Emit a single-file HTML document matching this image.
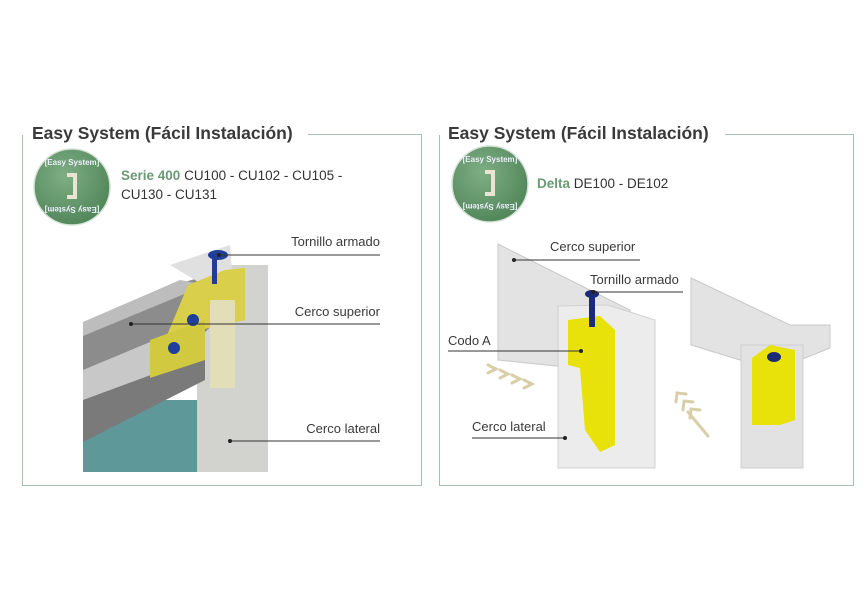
<!DOCTYPE html>
<html><head><meta charset="utf-8"><style>
html,body{margin:0;padding:0;background:#fff;}
svg{display:block;font-family:"Liberation Sans",sans-serif;}
</style></head><body>
<svg width="865" height="600" viewBox="0 0 865 600" xmlns="http://www.w3.org/2000/svg">
<g stroke="#a9bfb0" stroke-width="1" fill="none">
<path d="M22.5 135 V485.5 H421.5 V134.5 H308"/>
<path d="M439.5 135 V485.5 H853.5 V134.5 H725"/>
</g>
<text x="32" y="139" font-size="17.5" font-weight="bold" fill="#3a3a3a">Easy System (Fácil Instalación)</text>
<text x="448" y="139" font-size="17.5" font-weight="bold" fill="#3a3a3a">Easy System (Fácil Instalación)</text>

<g>
<defs><radialGradient id="bg" cx="40%" cy="35%" r="70%"><stop offset="0" stop-color="#7fae84"/><stop offset="1" stop-color="#4f8558"/></radialGradient></defs>
<circle cx="72" cy="187" r="38" fill="url(#bg)"/>
<circle cx="72" cy="187" r="38" fill="none" stroke="#d6e2d6" stroke-width="1.5"/>
<path d="M67 173h10v26h-10v-4h6v-18h-6z" fill="#e9e5d2"/>
<text x="72" y="165" font-size="8" fill="#eef" text-anchor="middle" font-weight="bold">[Easy System]</text>
<text x="72" y="215" font-size="8" fill="#eef" text-anchor="middle" font-weight="bold" transform="rotate(180 72 211)">[Easy System]</text>
<circle cx="490" cy="184" r="38" fill="url(#bg)"/>
<circle cx="490" cy="184" r="38" fill="none" stroke="#d6e2d6" stroke-width="1.5"/>
<path d="M485 170h10v26h-10v-4h6v-18h-6z" fill="#e9e5d2"/>
<text x="490" y="162" font-size="8" fill="#eef" text-anchor="middle" font-weight="bold">[Easy System]</text>
<text x="490" y="212" font-size="8" fill="#eef" text-anchor="middle" font-weight="bold" transform="rotate(180 490 208)">[Easy System]</text>
</g>

<text x="121" y="180" font-size="13.5" fill="#333"><tspan fill="#6a9a74" font-weight="bold">Serie 400</tspan> CU100 - CU102 - CU105 -</text>
<text x="121" y="199" font-size="13.5" fill="#333">CU130 - CU131</text>
<text x="537" y="188" font-size="13.5" fill="#333"><tspan fill="#6a9a74" font-weight="bold">Delta</tspan> DE100 - DE102</text>

<!-- LEFT drawing -->
<rect x="83" y="400" width="115" height="72" fill="#5e9898"/>
<rect x="197" y="265" width="71" height="207" fill="#d2d2ce"/>
<polygon points="83,330 185,282 230,268 230,310 83,440" fill="#8c8c8c"/>
<polygon points="83,322 180,280 206,285 83,336" fill="#bdbdbd"/>
<polygon points="83,370 150,342 205,330 205,360 83,420" fill="#c8c8c8"/>
<polygon points="83,400 205,355 205,380 83,442" fill="#7a7a7a"/>
<polygon points="170,265 230,245 232,270 200,283" fill="#e0e0e0"/>
<polygon points="188,285 225,270 245,268 245,320 200,330 165,340" fill="#d9cf4a"/>
<polygon points="150,340 205,320 205,360 150,378" fill="#d1c940"/>
<rect x="210" y="300" width="25" height="88" fill="#e2dfb8"/>
<circle cx="193" cy="320" r="6" fill="#1f3f9a"/>
<circle cx="174" cy="348" r="6" fill="#1f3f9a"/>
<rect x="212" y="256" width="5" height="28" fill="#243c96"/>
<ellipse cx="218" cy="255" rx="10" ry="5" fill="#1f3f9a"/>

<g font-size="13" fill="#3a3a3a" text-anchor="end">
<text x="380" y="246">Tornillo armado</text>
<text x="380" y="316">Cerco superior</text>
<text x="380" y="433">Cerco lateral</text>
</g>
<g stroke="#333" stroke-width="1">
<line x1="219" y1="255" x2="380" y2="255"/>
<line x1="131" y1="324" x2="380" y2="324"/>
<line x1="230" y1="441" x2="380" y2="441"/>
</g>
<g fill="#222"><circle cx="219" cy="255" r="2"/><circle cx="131" cy="324" r="2"/><circle cx="230" cy="441" r="2"/></g>

<!-- RIGHT drawing -->
<polygon points="498,244 630,310 630,355 575,368 498,360" fill="#e3e3e3" stroke="#c8c8c8"/>
<polygon points="558,306 608,305 655,320 655,468 558,468" fill="#ececec" stroke="#d0d0d0"/>
<polygon points="568,320 600,316 615,330 615,445 600,452 585,430 580,368 568,365" fill="#e8e20a"/>
<rect x="589" y="295" width="6" height="32" fill="#1c2a7a"/>
<ellipse cx="592" cy="294" rx="7" ry="4" fill="#1c2a7a"/>
<polygon points="691,278 790,325 830,325 830,348 800,360 740,360 691,345" fill="#e3e3e3" stroke="#c8c8c8"/>
<rect x="741" y="345" width="62" height="123" fill="#e2e2e2" stroke="#cfcfcf"/>
<polygon points="752,358 770,345 795,350 795,420 780,425 752,425" fill="#e8e20a"/>
<ellipse cx="774" cy="357" rx="7" ry="5" fill="#1c2a7a"/>
<g stroke="#d8cfa8" stroke-width="3" fill="none" stroke-linecap="round">
<path d="M488 365l8 4-8 4M500 370l8 4-8 4M512 375l8 4-8 4M524 380l8 4-8 4"/>
<path d="M708 436l-20-24"/>
<path d="M676 402l1-9 9 1M683 410l1-9 9 1M690 418l1-9 9 1"/>
</g>

<g font-size="13" fill="#3a3a3a">
<text x="550" y="251">Cerco superior</text>
<text x="590" y="284">Tornillo armado</text>
<text x="448" y="345">Codo A</text>
<text x="472" y="431">Cerco lateral</text>
</g>
<g stroke="#333" stroke-width="1">
<line x1="514" y1="260" x2="640" y2="260"/>
<line x1="593" y1="292" x2="683" y2="292"/>
<line x1="448" y1="351" x2="581" y2="351"/>
<line x1="472" y1="438" x2="565" y2="438"/>
</g>
<g fill="#222"><circle cx="514" cy="260" r="2"/><circle cx="593" cy="292" r="2"/><circle cx="581" cy="351" r="2"/><circle cx="565" cy="438" r="2"/></g>
</svg>
</body></html>
